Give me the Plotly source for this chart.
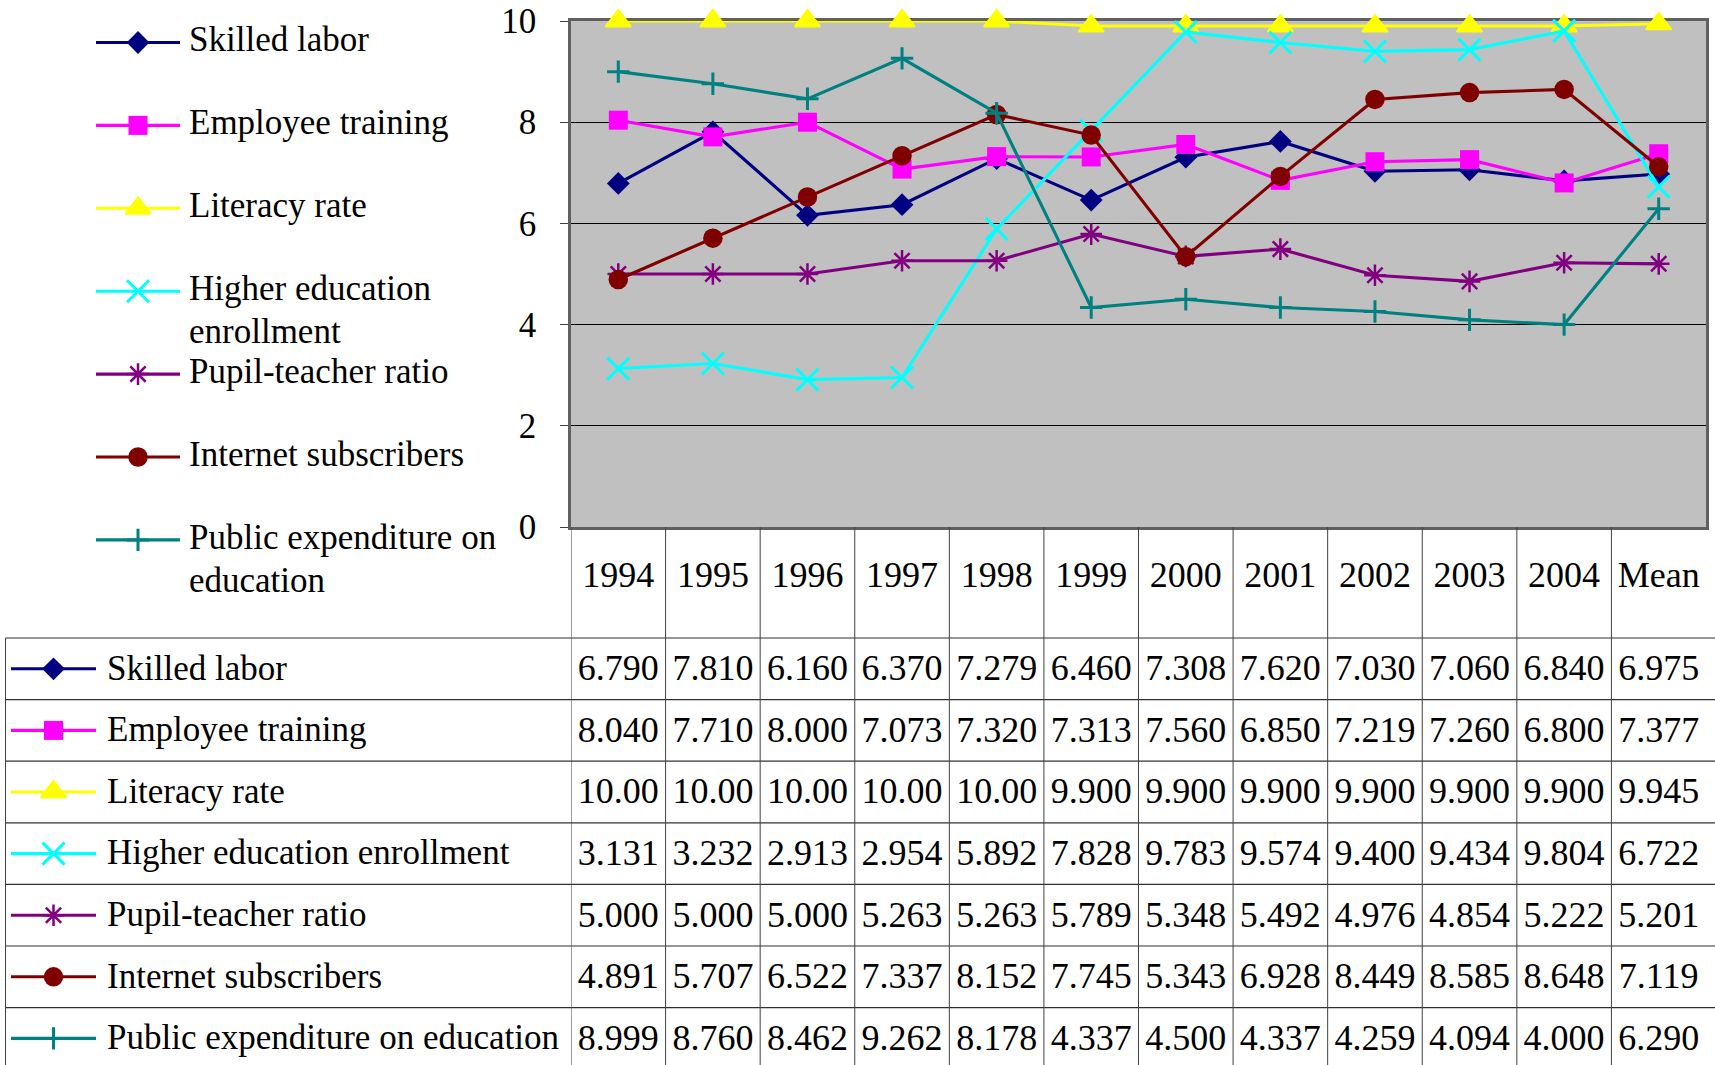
import plotly.graph_objects as go

# ---------------- data ----------------
categories = ["1994", "1995", "1996", "1997", "1998", "1999", "2000",
              "2001", "2002", "2003", "2004", "Mean"]
skilled_labor = [6.790, 7.810, 6.160, 6.370, 7.279, 6.460, 7.308, 7.620, 7.030, 7.060, 6.840, 6.975]
employee_training = [8.040, 7.710, 8.000, 7.073, 7.320, 7.313, 7.560, 6.850, 7.219, 7.260, 6.800, 7.377]
literacy_rate = [10.00, 10.00, 10.00, 10.00, 10.00, 9.900, 9.900, 9.900, 9.900, 9.900, 9.900, 9.945]
higher_education = [3.131, 3.232, 2.913, 2.954, 5.892, 7.828, 9.783, 9.574, 9.400, 9.434, 9.804, 6.722]
pupil_teacher = [5.000, 5.000, 5.000, 5.263, 5.263, 5.789, 5.348, 5.492, 4.976, 4.854, 5.222, 5.201]
internet_subscribers = [4.891, 5.707, 6.522, 7.337, 8.152, 7.745, 5.343, 6.928, 8.449, 8.585, 8.648, 7.119]
public_expenditure = [8.999, 8.760, 8.462, 9.262, 8.178, 4.337, 4.500, 4.337, 4.259, 4.094, 4.000, 6.290]

series_names = ["Skilled labor", "Employee training", "Literacy rate",
                "Higher education enrollment", "Pupil-teacher ratio",
                "Internet subscribers", "Public expenditure on education"]
legend_lines = [["Skilled labor"], ["Employee training"], ["Literacy rate"],
                ["Higher education", "enrollment"], ["Pupil-teacher ratio"],
                ["Internet subscribers"], ["Public expenditure on", "education"]]
series_values = [skilled_labor, employee_training, literacy_rate, higher_education,
                 pupil_teacher, internet_subscribers, public_expenditure]
y_ticks = [0, 2, 4, 6, 8, 10]

# ---------------- styles / layout constants ----------------
colors = ["#000080", "#FF00FF", "#FFFF00", "#00FFFF", "#800080", "#800000", "#008080"]
symbols = ["diamond", "square", "triangle-up", "x-thin-open", "asterisk-open", "circle", "cross-thin-open"]
sizes = [17.5, 19, 22, 22, 18, 19.5, 16]
mlw = [0, 0, 2, 3, 2.5, 0, 3]
FONT = "Liberation Serif, Times New Roman, serif"

W, H = 1715, 1065
PLOT_L, PLOT_R, PLOT_T, PLOT_B = 571, 1706, 21, 527
HEADER_B, ROW_H = 638, 61.6
TABLE_L = 5.5
LEG_KEY_X0, LEG_KEY_X1, LEG_TEXT_X = 96, 180, 189
LEG_TOP, LEG_STEP, LEG_LINE = 42.5, 82.9, 43
TAB_KEY_X0, TAB_KEY_X1, TAB_TEXT_X = 11, 96, 107
LINE_W = 3.1

y3_top = -0.5 - (HEADER_B - PLOT_B) / ROW_H
y3_bot = -0.5 + (H - HEADER_B) / ROW_H
year_row_y = y3_top + (578 - PLOT_B) / ROW_H

fig = go.Figure()

# ---- main chart lines ----
for i, name in enumerate(series_names):
    fig.add_trace(go.Scatter(
        x=categories, y=series_values[i], mode="lines+markers", name=name,
        line=dict(color=colors[i], width=LINE_W),
        marker=dict(symbol=symbols[i], size=sizes[i], color=colors[i],
                    line=dict(color=colors[i], width=mlw[i])),
        cliponaxis=False, showlegend=False, xaxis="x", yaxis="y"))

# ---- upper-left legend (keys on overlay pixel axes) ----
for i, name in enumerate(series_names):
    yc = LEG_TOP + LEG_STEP * i
    fig.add_trace(go.Scatter(
        x=[LEG_KEY_X0, LEG_KEY_X1], y=[yc, yc], mode="lines",
        line=dict(color=colors[i], width=LINE_W), showlegend=False,
        hoverinfo="skip", xaxis="x2", yaxis="y2", cliponaxis=False))
    fig.add_trace(go.Scatter(
        x=[(LEG_KEY_X0 + LEG_KEY_X1) / 2], y=[yc], mode="markers",
        marker=dict(symbol=symbols[i], size=sizes[i], color=colors[i],
                    line=dict(color=colors[i], width=mlw[i])),
        showlegend=False, hoverinfo="skip", xaxis="x2", yaxis="y2", cliponaxis=False))
    lines = legend_lines[i]
    fig.add_trace(go.Scatter(
        x=[LEG_TEXT_X] * len(lines), y=[yc + LEG_LINE * k for k in range(len(lines))],
        mode="text", text=lines, textposition="middle right",
        textfont=dict(family=FONT, size=35, color="black"),
        showlegend=False, hoverinfo="skip", xaxis="x2", yaxis="y2", cliponaxis=False))

# ---- data table ----
fig.add_trace(go.Scatter(
    x=categories, y=[year_row_y] * len(categories), mode="text", text=categories,
    textposition="middle center", textfont=dict(family=FONT, size=36, color="black"),
    showlegend=False, hoverinfo="skip", xaxis="x", yaxis="y3", cliponaxis=False))
for i, name in enumerate(series_names):
    fig.add_trace(go.Scatter(
        x=categories, y=[i + 0.04] * len(categories), mode="text",
        text=["{:#.4g}".format(v) for v in series_values[i]],
        textposition="middle center", textfont=dict(family=FONT, size=36, color="black"),
        showlegend=False, hoverinfo="skip", xaxis="x", yaxis="y3", cliponaxis=False))
    yc = HEADER_B + ROW_H * (i + 0.5)
    fig.add_trace(go.Scatter(
        x=[TAB_KEY_X0, TAB_KEY_X1], y=[yc, yc], mode="lines",
        line=dict(color=colors[i], width=LINE_W), showlegend=False,
        hoverinfo="skip", xaxis="x2", yaxis="y2", cliponaxis=False))
    fig.add_trace(go.Scatter(
        x=[(TAB_KEY_X0 + TAB_KEY_X1) / 2], y=[yc], mode="markers",
        marker=dict(symbol=symbols[i], size=sizes[i], color=colors[i],
                    line=dict(color=colors[i], width=mlw[i])),
        showlegend=False, hoverinfo="skip", xaxis="x2", yaxis="y2", cliponaxis=False))
    fig.add_trace(go.Scatter(
        x=[TAB_TEXT_X], y=[yc + 2], mode="text", text=[name], textposition="middle right",
        textfont=dict(family=FONT, size=35, color="black"),
        showlegend=False, hoverinfo="skip", xaxis="x2", yaxis="y2", cliponaxis=False))

shapes = []
shapes.append(dict(type="rect", xref="x domain", yref="y domain", x0=0, x1=1, y0=0, y1=1,
                   fillcolor="#C0C0C0", line=dict(width=0), layer="below"))
for r in range(len(series_names)):
    yb = r - 0.5
    shapes.append(dict(type="line", xref="paper", yref="y3", x0=TABLE_L / W, x1=1,
                       y0=yb, y1=yb, line=dict(color="#303030", width=1.2)))
for k in range(len(categories)):
    shapes.append(dict(type="line", xref="x", yref="y3", x0=k - 0.5, x1=k - 0.5,
                       y0=y3_top, y1=y3_bot, line=dict(color="#404040", width=1)))
shapes.append(dict(type="line", xref="paper", yref="y3", x0=TABLE_L / W, x1=TABLE_L / W,
                   y0=-0.5, y1=y3_bot, line=dict(color="#404040", width=1)))

fig.update_layout(
    width=W, height=H, margin=dict(l=0, r=0, t=0, b=0, autoexpand=False),
    paper_bgcolor="white", plot_bgcolor="rgba(0,0,0,0)",
    font=dict(family=FONT, color="black"),
    showlegend=False,
    xaxis=dict(domain=[PLOT_L / W, PLOT_R / W], type="category", range=[-0.5, 11.5],
               showticklabels=False, ticks="", showgrid=False, zeroline=False,
               showline=True, linecolor="#606060", linewidth=2.5, mirror=True,
               layer="below traces", anchor="y", automargin=False),
    yaxis=dict(domain=[(H - PLOT_B) / H, (H - PLOT_T) / H], range=[0, 10],
               tickvals=y_ticks, ticktext=[str(t) for t in y_ticks],
               showgrid=True, gridcolor="black", gridwidth=1, zeroline=False,
               showline=True, linecolor="#606060", linewidth=2.5, mirror=True,
               ticks="outside", ticklen=8, tickcolor="#404040", tickwidth=1,
               ticklabelstandoff=17, tickfont=dict(family=FONT, size=35, color="black"),
               layer="below traces", anchor="x", automargin=False),
    yaxis3=dict(domain=[0, (H - PLOT_B) / H], range=[y3_bot, y3_top], visible=False,
                anchor="x", fixedrange=True, automargin=False),
    xaxis2=dict(domain=[0, 1], range=[0, W], visible=False, anchor="y2", fixedrange=True,
                automargin=False),
    yaxis2=dict(domain=[0, 1], range=[H, 0], visible=False, anchor="x2", fixedrange=True,
                automargin=False),
    shapes=shapes,
)

fig.write_html("out.html")
